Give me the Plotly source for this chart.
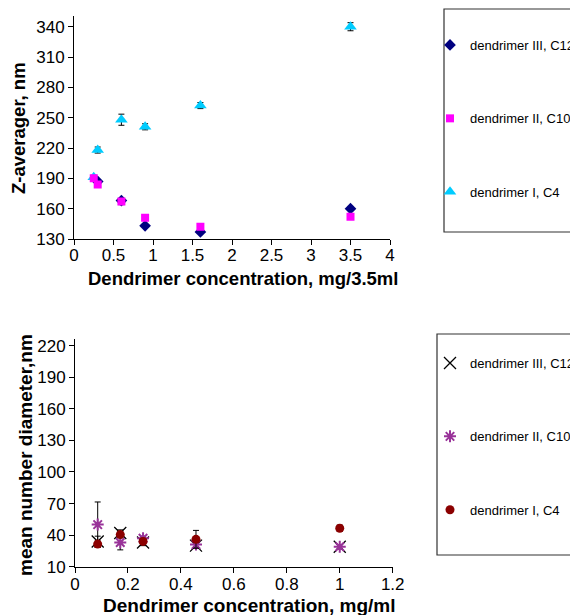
import plotly.graph_objects as go

# ---------- top chart data (mg/3.5ml vs Z-average) ----------
top_x_I = [0.25, 0.3, 0.6, 0.9, 1.6, 3.5]
top_y_I = [191, 218, 248, 241, 262, 340]
top_e_I = [2, 3, 5.5, 3, 3, 4]

top_x_III = [0.3, 0.6, 0.9, 1.6, 3.5]
top_y_III = [187, 168, 143, 137, 160]
top_e_III = [2, 2, 1.5, 1.5, 1.5]

top_x_II = [0.25, 0.3, 0.6, 0.9, 1.6, 3.5]
top_y_II = [190, 184, 167, 151, 142, 152]
top_e_II = [2, 2, 3, 1.5, 2, 1.5]

# ---------- bottom chart data (mg/ml vs mean number diameter) ----------
bot_x = [0.0857, 0.171, 0.257, 0.457, 1.0]
bot_y_III = [34, 42, 33, 30, 29]
bot_e_III = [5, 3, 3, 2, 2]
bot_y_II = [50, 33, 37, 31, 29]
bot_e_II = [21.5, 7, 2, 2, 2]
bot_y_I = [31.5, 40.5, 34, 36, 46.5]
bot_e_I = [3, 3, 3, 8.5, 3]

top_yticks = [130, 160, 190, 220, 250, 280, 310, 340]
top_xticks = [0, 0.5, 1, 1.5, 2, 2.5, 3, 3.5, 4]
top_xlabels = ["0", "0.5", "1", "1.5", "2", "2.5", "3", "3.5", "4"]
bot_yticks = [10, 40, 70, 100, 130, 160, 190, 220]
bot_xticks = [0, 0.2, 0.4, 0.6, 0.8, 1, 1.2]
bot_xlabels = ["0", "0.2", "0.4", "0.6", "0.8", "1", "1.2"]

FONT = "Liberation Sans, Arial, sans-serif"
W, H = 570, 615

fig = go.Figure()

def eb(vals):
    return dict(type="data", array=vals, visible=True, color="black", thickness=1, width=3)

# top traces (draw order: cyan, navy, magenta)
fig.add_trace(go.Scatter(x=top_x_I, y=top_y_I, error_y=eb(top_e_I), mode="markers",
                         name="dendrimer I, C4", legendrank=3, legendgroup="a3", legend="legend",
                         marker=dict(symbol="triangle-up", size=11, color="#00CCFF"),
                         xaxis="x", yaxis="y"))
fig.add_trace(go.Scatter(x=top_x_III, y=top_y_III, error_y=eb(top_e_III), mode="markers",
                         name="dendrimer III, C12", legendrank=1, legendgroup="a1", legend="legend",
                         marker=dict(symbol="diamond", size=9, color="#000080"),
                         xaxis="x", yaxis="y"))
fig.add_trace(go.Scatter(x=top_x_II, y=top_y_II, error_y=eb(top_e_II), mode="markers",
                         name="dendrimer II, C10", legendrank=2, legendgroup="a2", legend="legend",
                         marker=dict(symbol="square", size=8, color="#FF00FF"),
                         xaxis="x", yaxis="y"))

# bottom traces
fig.add_trace(go.Scatter(x=bot_x, y=bot_y_III, error_y=eb(bot_e_III), mode="markers",
                         name="dendrimer III, C12", legendrank=1, legendgroup="b1", legend="legend2",
                         marker=dict(symbol="x-thin-open", size=12, color="black",
                                     line=dict(color="black", width=1.3)),
                         xaxis="x2", yaxis="y2"))
fig.add_trace(go.Scatter(x=bot_x, y=bot_y_II, error_y=eb(bot_e_II), mode="markers",
                         name="dendrimer II, C10", legendrank=2, legendgroup="b2", legend="legend2",
                         marker=dict(symbol="asterisk-open", size=10, color="#993399",
                                     line=dict(color="#993399", width=2)),
                         xaxis="x2", yaxis="y2"))
fig.add_trace(go.Scatter(x=bot_x, y=bot_y_I, error_y=eb(bot_e_I), mode="markers",
                         name="dendrimer I, C4", legendrank=3, legendgroup="b3", legend="legend2",
                         marker=dict(symbol="circle", size=9, color="#8B0000"),
                         xaxis="x2", yaxis="y2"))

axis_common = dict(showgrid=False, zeroline=False, showline=True, linecolor="black", linewidth=1,
                   ticks="outside", ticklen=5, tickcolor="black", tickwidth=1, automargin=False,
                   tickfont=dict(family=FONT, size=17, color="black"))

fig.update_layout(
    width=W, height=H, margin=dict(l=0, r=0, t=0, b=0, autoexpand=False),
    paper_bgcolor="white", plot_bgcolor="white",
    font=dict(family=FONT, color="black"),
    xaxis=dict(domain=[74 / W, 390 / W], range=[0, 4], tickvals=top_xticks, ticktext=top_xlabels,
               anchor="y", ticklabelstandoff=-4, **axis_common),
    yaxis=dict(domain=[1 - 239 / H, 1 - 15.6 / H], range=[130, 351], tickvals=top_yticks,
               anchor="x", **axis_common),
    xaxis2=dict(domain=[75 / W, 392.7 / W], range=[0, 1.2], tickvals=bot_xticks, ticktext=bot_xlabels,
                anchor="y2", ticklabelstandoff=-3, **axis_common),
    yaxis2=dict(domain=[1 - 566.7 / H, 1 - 339.4 / H], range=[10, 226], tickvals=bot_yticks,
                anchor="x2", **axis_common),
    legend=dict(x=430 / W, y=1 - 30 / H, xanchor="left", yanchor="top",
                tracegroupgap=53.5, bgcolor="rgba(0,0,0,0)", borderwidth=0,
                font=dict(family=FONT, size=13, color="black"), itemwidth=30),
    legend2=dict(x=430 / W, y=1 - 348 / H, xanchor="left", yanchor="top",
                 tracegroupgap=53.5, bgcolor="rgba(0,0,0,0)", borderwidth=0,
                 font=dict(family=FONT, size=13, color="black"), itemwidth=30),
    shapes=[
        dict(type="rect", xref="paper", yref="paper", x0=444 / W, x1=1.1, y0=1 - 232 / H, y1=1 - 9 / H,
             line=dict(color="#333333", width=1.2), fillcolor="rgba(0,0,0,0)"),
        dict(type="rect", xref="paper", yref="paper", x0=437 / W, x1=1.1, y0=1 - 555 / H, y1=1 - 334 / H,
             line=dict(color="#333333", width=1.2), fillcolor="rgba(0,0,0,0)"),
    ],
    annotations=[
        dict(text="<b>Z-averager, nm</b>", xref="paper", yref="paper", x=18 / W, y=1 - 128 / H,
             xanchor="center", yanchor="middle",
             textangle=-90, showarrow=False, font=dict(family=FONT, size=18.5, color="black")),
        dict(text="<b>Dendrimer concentration, mg/3.5ml</b>", xref="paper", yref="paper",
             x=(87 + 311 / 2) / W, y=1 - 278 / H, xanchor="center", yanchor="middle", showarrow=False,
             font=dict(family=FONT, size=18.5, color="black")),
        dict(text="<b>mean number diameter,nm</b>", xref="paper", yref="paper", x=25 / W, y=1 - 455 / H,
             xanchor="center", yanchor="middle",
             textangle=-90, showarrow=False, font=dict(family=FONT, size=19, color="black")),
        dict(text="<b>Dendrimer concentration, mg/ml</b>", xref="paper", yref="paper",
             x=(100 + 298 / 2) / W, y=1 - 605 / H, xanchor="center", yanchor="middle", showarrow=False,
             font=dict(family=FONT, size=19, color="black")),
    ],
)

fig.write_html("out.html", config={"displayModeBar": False},
               post_script="document.body.style.margin='0px';document.body.style.padding='0px';")
